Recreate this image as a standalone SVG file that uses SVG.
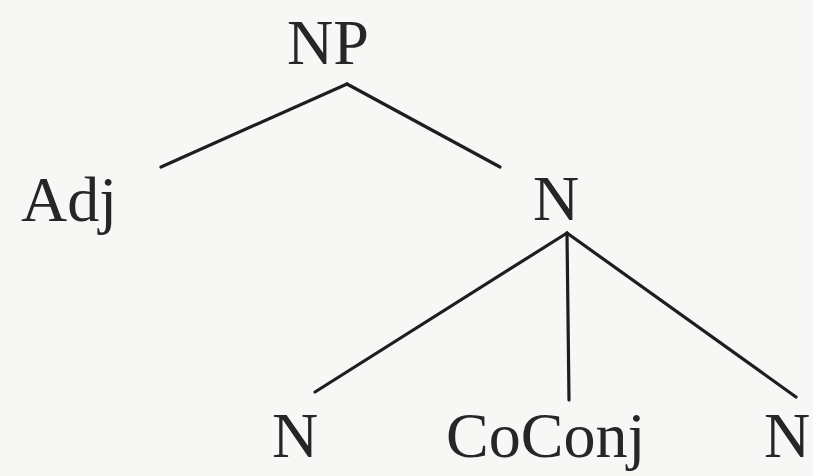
<svg xmlns="http://www.w3.org/2000/svg" width="813" height="476" viewBox="0 0 813 476">
<style>
.lbl{font-family:"Liberation Serif","Times New Roman",serif;font-size:64px;fill:#262626}
.edge{stroke:#1e1e1e;stroke-width:3.2;stroke-linecap:round;fill:none}
</style>
<rect width="813" height="476" fill="#f7f7f5"/>
<g id="connectors">
<line class="edge" x1="347" y1="84" x2="161" y2="167"/>
<line class="edge" x1="347" y1="84" x2="500" y2="167"/>
<line class="edge" x1="567" y1="233" x2="315" y2="392"/>
<line class="edge" x1="567" y1="233" x2="569" y2="400"/>
<line class="edge" x1="567" y1="233" x2="796" y2="397"/>
</g>
<g id="np"><text class="lbl" x="287" y="64">NP</text></g>
<g id="adj"><text class="lbl" x="21" y="221">Adj</text></g>
<g id="n-mid"><text class="lbl" x="533" y="220">N</text></g>
<g id="n-left"><text class="lbl" x="272" y="457">N</text></g>
<g id="coconj"><text class="lbl" x="446" y="457">CoConj</text></g>
<g id="n-right"><text class="lbl" x="764" y="457">N</text></g>
</svg>
